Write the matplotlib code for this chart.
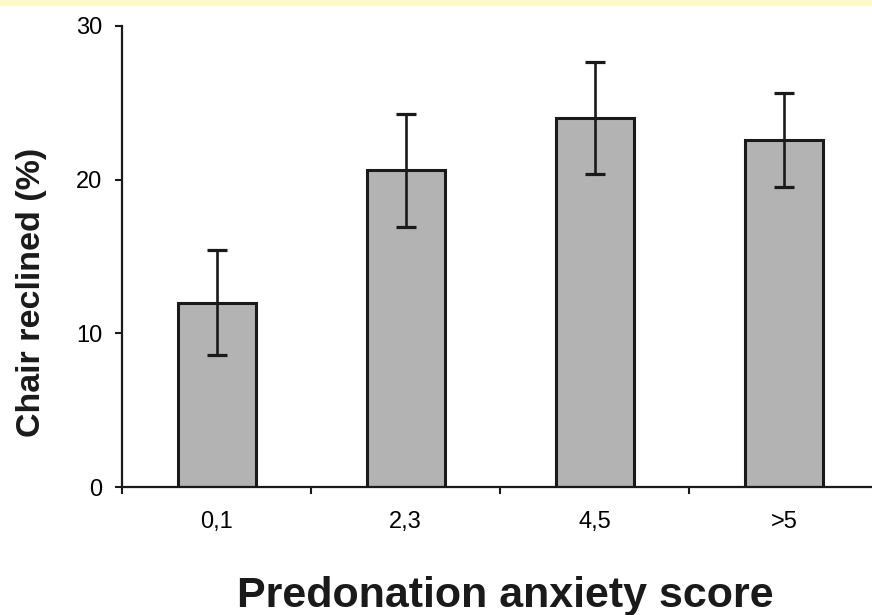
import matplotlib.pyplot as plt
from matplotlib.patches import Rectangle

# Chair reclined by predonation anxiety score
categories = ['0,1', '2,3', '4,5', '>5']
reclined = [12.0, 20.6, 24.0, 22.6]
err = [3.4, 3.7, 3.65, 3.05]
yticks = [0, 10, 20, 30]

plt.rcParams['font.family'] = ['Liberation Sans', 'DejaVu Sans']

fig = plt.figure(figsize=(8.72, 6.15), dpi=100)
# pale yellow strip along the top edge
fig.patches.append(Rectangle((0, 1 - 6/615), 1, 6/615, transform=fig.transFigure,
                             facecolor='#fffac8', edgecolor='none'))
ax = fig.add_axes([122/872, 1 - 487/615, 1 - 122/872, 461/615])

x = list(range(len(categories)))
ax.bar(x, reclined, width=0.413, color='#b3b3b3', edgecolor='#1a1a1a',
       linewidth=2.2, zorder=2)
ax.errorbar(x, reclined, yerr=err, fmt='none', ecolor='#1a1a1a',
            elinewidth=1.9, capsize=7.2, capthick=2.3, zorder=3)

ax.set_xlim(-0.5, 3.466)
ax.set_ylim(0, 30)
ax.set_yticks(yticks)
ax.set_yticklabels([str(v) for v in yticks])
ax.set_xticks(x)
ax.set_xticklabels(categories)
# ticks on the x axis sit between the bars
ax.set_xticks([-0.5, 0.5, 1.5, 2.5], minor=True)
ax.tick_params(axis='x', which='major', length=0, pad=17, labelsize=17)
ax.tick_params(axis='x', which='minor', length=5, width=1.5, direction='out', color='#1a1a1a')
ax.tick_params(axis='y', length=5, width=1.5, direction='out', pad=9, labelsize=17,
               color='#1a1a1a')

for s in ['top', 'right']:
    ax.spines[s].set_visible(False)
for s in ['left', 'bottom']:
    ax.spines[s].set_linewidth(1.6)
    ax.spines[s].set_color('#1a1a1a')

ax.set_ylabel('Chair reclined (%)', fontsize=24.5, fontweight='bold', color='#1a1a1a')
ax.yaxis.set_label_coords(-0.100, 0.423)
ax.set_xlabel('Predonation anxiety score', fontsize=31, fontweight='bold', color='#1a1a1a')
ax.xaxis.set_label_coords(0.511, -0.193)

fig.savefig('out.png', dpi=100)
